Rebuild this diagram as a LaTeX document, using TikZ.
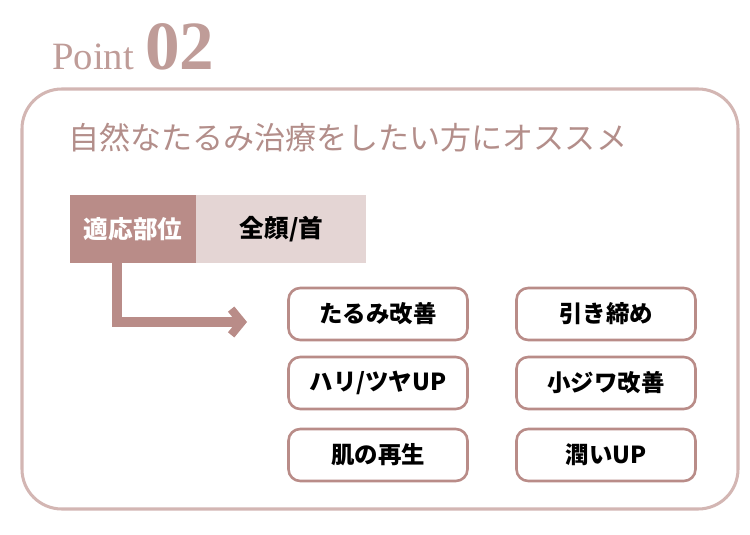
\documentclass[tikz,border=0pt]{standalone}
\usepackage{fontspec}
\setmainfont{Liberation Serif}
\newfontfamily\jp{Noto Sans CJK JP}
\usetikzlibrary{arrows.meta}
\definecolor{rose}{HTML}{B98C88}
\definecolor{roseline}{HTML}{D3B6B3}
\definecolor{rosetext}{HTML}{BF9C98}
\definecolor{rosehead}{HTML}{B38E8A}
\definecolor{rosepale}{HTML}{E4D5D4}
\tikzset{
  effect/.style={draw=rose,line width=2.2pt,fill=white,rounded corners=10pt,
    minimum width=179*0.03cm,minimum height=52*0.03cm,
    font=\jp\fontsize{20}{22}\selectfont\bfseries,text=black},
}
\begin{document}
\begin{tikzpicture}[x=0.03cm,y=-0.03cm]
    \useasboundingbox (0,0) rectangle (750,535);
    % title
    \node [anchor=base west,text=rosetext,font=\fontsize{33}{36}\selectfont,inner sep=0] (point) at (52,70) {Point};
    \node [anchor=base west,text=rosetext,font=\fontsize{59}{62}\selectfont\bfseries,inner sep=0] (num) at (145,70) {02};
    % frame
    \draw [roseline,line width=2.6pt,rounded corners=34pt] (22,89) rectangle (738,509);
    \node [anchor=west,text=rosehead,font=\jp\fontsize{26.5}{28}\selectfont,inner sep=0] (head) at (68,138) {自然なたるみ治療をしたい方にオススメ};
    % area
    \node [fill=rose,text=white,font=\jp\fontsize{21}{24}\selectfont\bfseries,minimum width=126*0.03cm,minimum height=68*0.03cm,inner sep=0] (area) at (133,229) {適応部位};
    \node [fill=rosepale,text=black,font=\jp\fontsize{21}{24}\selectfont\bfseries,minimum width=170*0.03cm,minimum height=68*0.03cm,inner sep=0,anchor=west] (face) at (area.east) {全顔/首};
    \coordinate (turn) at (117,322);
    \coordinate (tip) at (247,322);
    \draw [rose,line width=9pt,-{Straight Barb[length=9pt,width=22pt,line width=7pt]}] (117,263) -- (turn) -- (tip);
    % effects
    \foreach \x/\y/\name/\txt in {378/314/a/たるみ改善,606/314/b/引き締め,378/383/c/{ハリ/ツヤUP},606/383/d/小ジワ改善,378/455/e/肌の再生,606/455/f/潤いUP} {
        \node [effect] (\name) at (\x,\y) {\txt};
    }
\end{tikzpicture}
\end{document}
